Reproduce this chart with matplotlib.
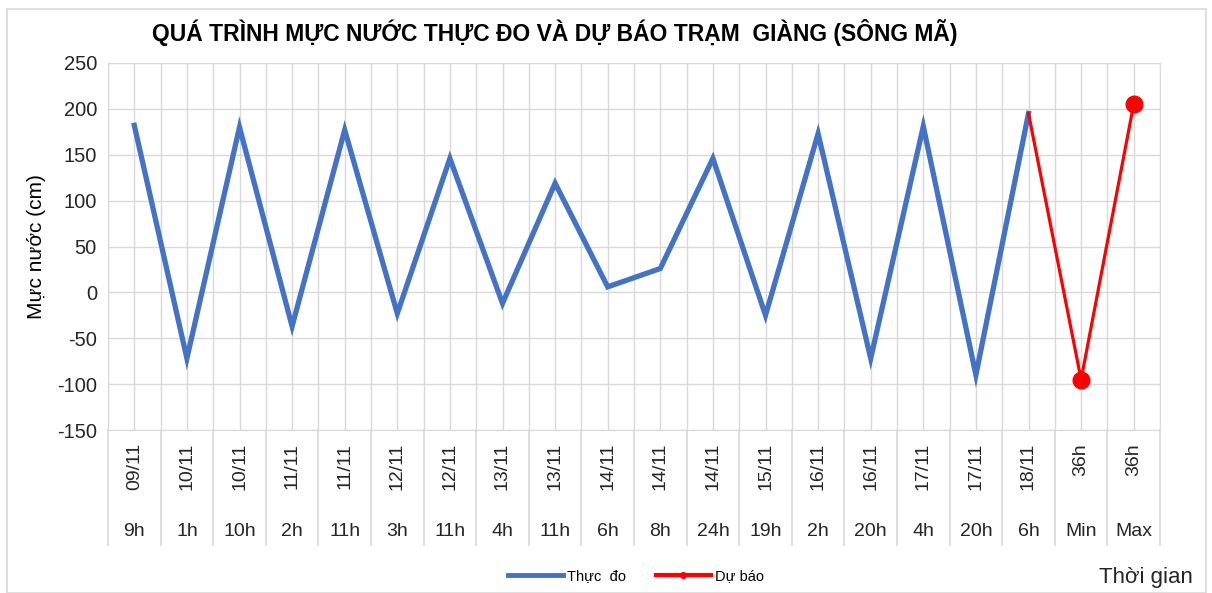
import matplotlib
matplotlib.use("Agg")
import matplotlib.pyplot as plt
from matplotlib.lines import Line2D
from matplotlib.patches import Rectangle

plt.rcParams['font.family'] = ['Liberation Sans', 'DejaVu Sans']
plt.rcParams['axes.unicode_minus'] = False

# data
dates = ["09/11", "10/11", "10/11", "11/11", "11/11", "12/11", "12/11", "13/11",
         "13/11", "14/11", "14/11", "14/11", "15/11", "16/11", "16/11", "17/11",
         "17/11", "18/11", "36h", "36h"]
hours = ["9h", "1h", "10h", "2h", "11h", "3h", "11h", "4h", "11h", "6h", "8h",
         "24h", "19h", "2h", "20h", "4h", "20h", "6h", "Min", "Max"]
observed = [182, -72, 180, -37, 177, -23, 146, -12, 119, 6, 26, 146, -25, 173,
            -72, 181, -90, 195]
forecast_idx = [17, 18, 19]
forecast = [195, -95, 205]

BLUE = "#4472C4"
RED = "#FF0000"
GRID = "#D9D9D9"

fig = plt.figure(figsize=(12.12, 5.93), dpi=100)
ax = fig.add_axes([108 / 1212, 1 - 430 / 593, (1160 - 108) / 1212, (430 - 63) / 593])

x_obs = list(range(len(observed)))
ax.plot(x_obs, observed, color=BLUE, lw=3.8, solid_joinstyle='miter')
ax.plot(forecast_idx, forecast, color=RED, lw=2.3, marker='o', markersize=12,
        markevery=[1, 2])

n = len(hours)
ax.set_xlim(-0.5, n - 0.5)
ax.set_ylim(-150, 250)
ax.set_yticks(range(-150, 251, 50))
ax.set_xticks(range(n))
ax.set_xticks([i - 0.5 for i in range(n + 1)], minor=True)
ax.grid(True, which='both', color=GRID, lw=1)
ax.set_axisbelow(True)
ax.tick_params(axis='x', which='both', length=0, labelbottom=False)
ax.tick_params(axis='y', length=0, labelsize=14.5, pad=8, labelcolor="#262626")
for s in ax.spines.values():
    s.set_color(GRID)

ax.set_ylabel("Mực nước (cm)", fontsize=15, labelpad=8)

# two level category axis
tr = ax.get_xaxis_transform()
h = 430 - 63
for i in range(n):
    ax.text(i, -13 / h, dates[i], transform=tr, rotation=90, ha='center',
            va='top', fontsize=14, color="#262626")
    ax.text(i, -101 / h, hours[i], transform=tr, ha='center', va='center',
            fontsize=14, color="#262626")
for i in range(n + 1):
    ax.plot([i - 0.5, i - 0.5], [0, -115 / h], transform=tr, color=GRID, lw=1.2,
            clip_on=False)

fig.text(152 / 1212, 1 - 33 / 593, "QUÁ TRÌNH MỰC NƯỚC THỰC ĐO VÀ DỰ BÁO TRẠM  GIÀNG (SÔNG MÃ)",
         fontsize=16.5, fontweight='bold', ha='left', va='center')

fig.text(1193 / 1212, 1 - 578 / 593, "Thời gian", fontsize=16, ha='right',
         va='center', color="#262626")

handles = [Line2D([], [], color=BLUE, lw=3.5),
           Line2D([], [], color=RED, lw=3, marker='o', markersize=4)]
fig.legend(handles, ["Thực  đo", "Dự báo"], loc='center',
           bbox_to_anchor=(636 / 1212, 1 - 576 / 593), ncol=2, frameon=False,
           fontsize=10.5, handlelength=3.8, columnspacing=2.0, handletextpad=0.3)

fig.add_artist(Rectangle((0.006, 0.0), 0.989, 0.985, transform=fig.transFigure,
                         fill=False, edgecolor="#D9D9D9", lw=1.2))

fig.savefig("out.png", dpi=100)
